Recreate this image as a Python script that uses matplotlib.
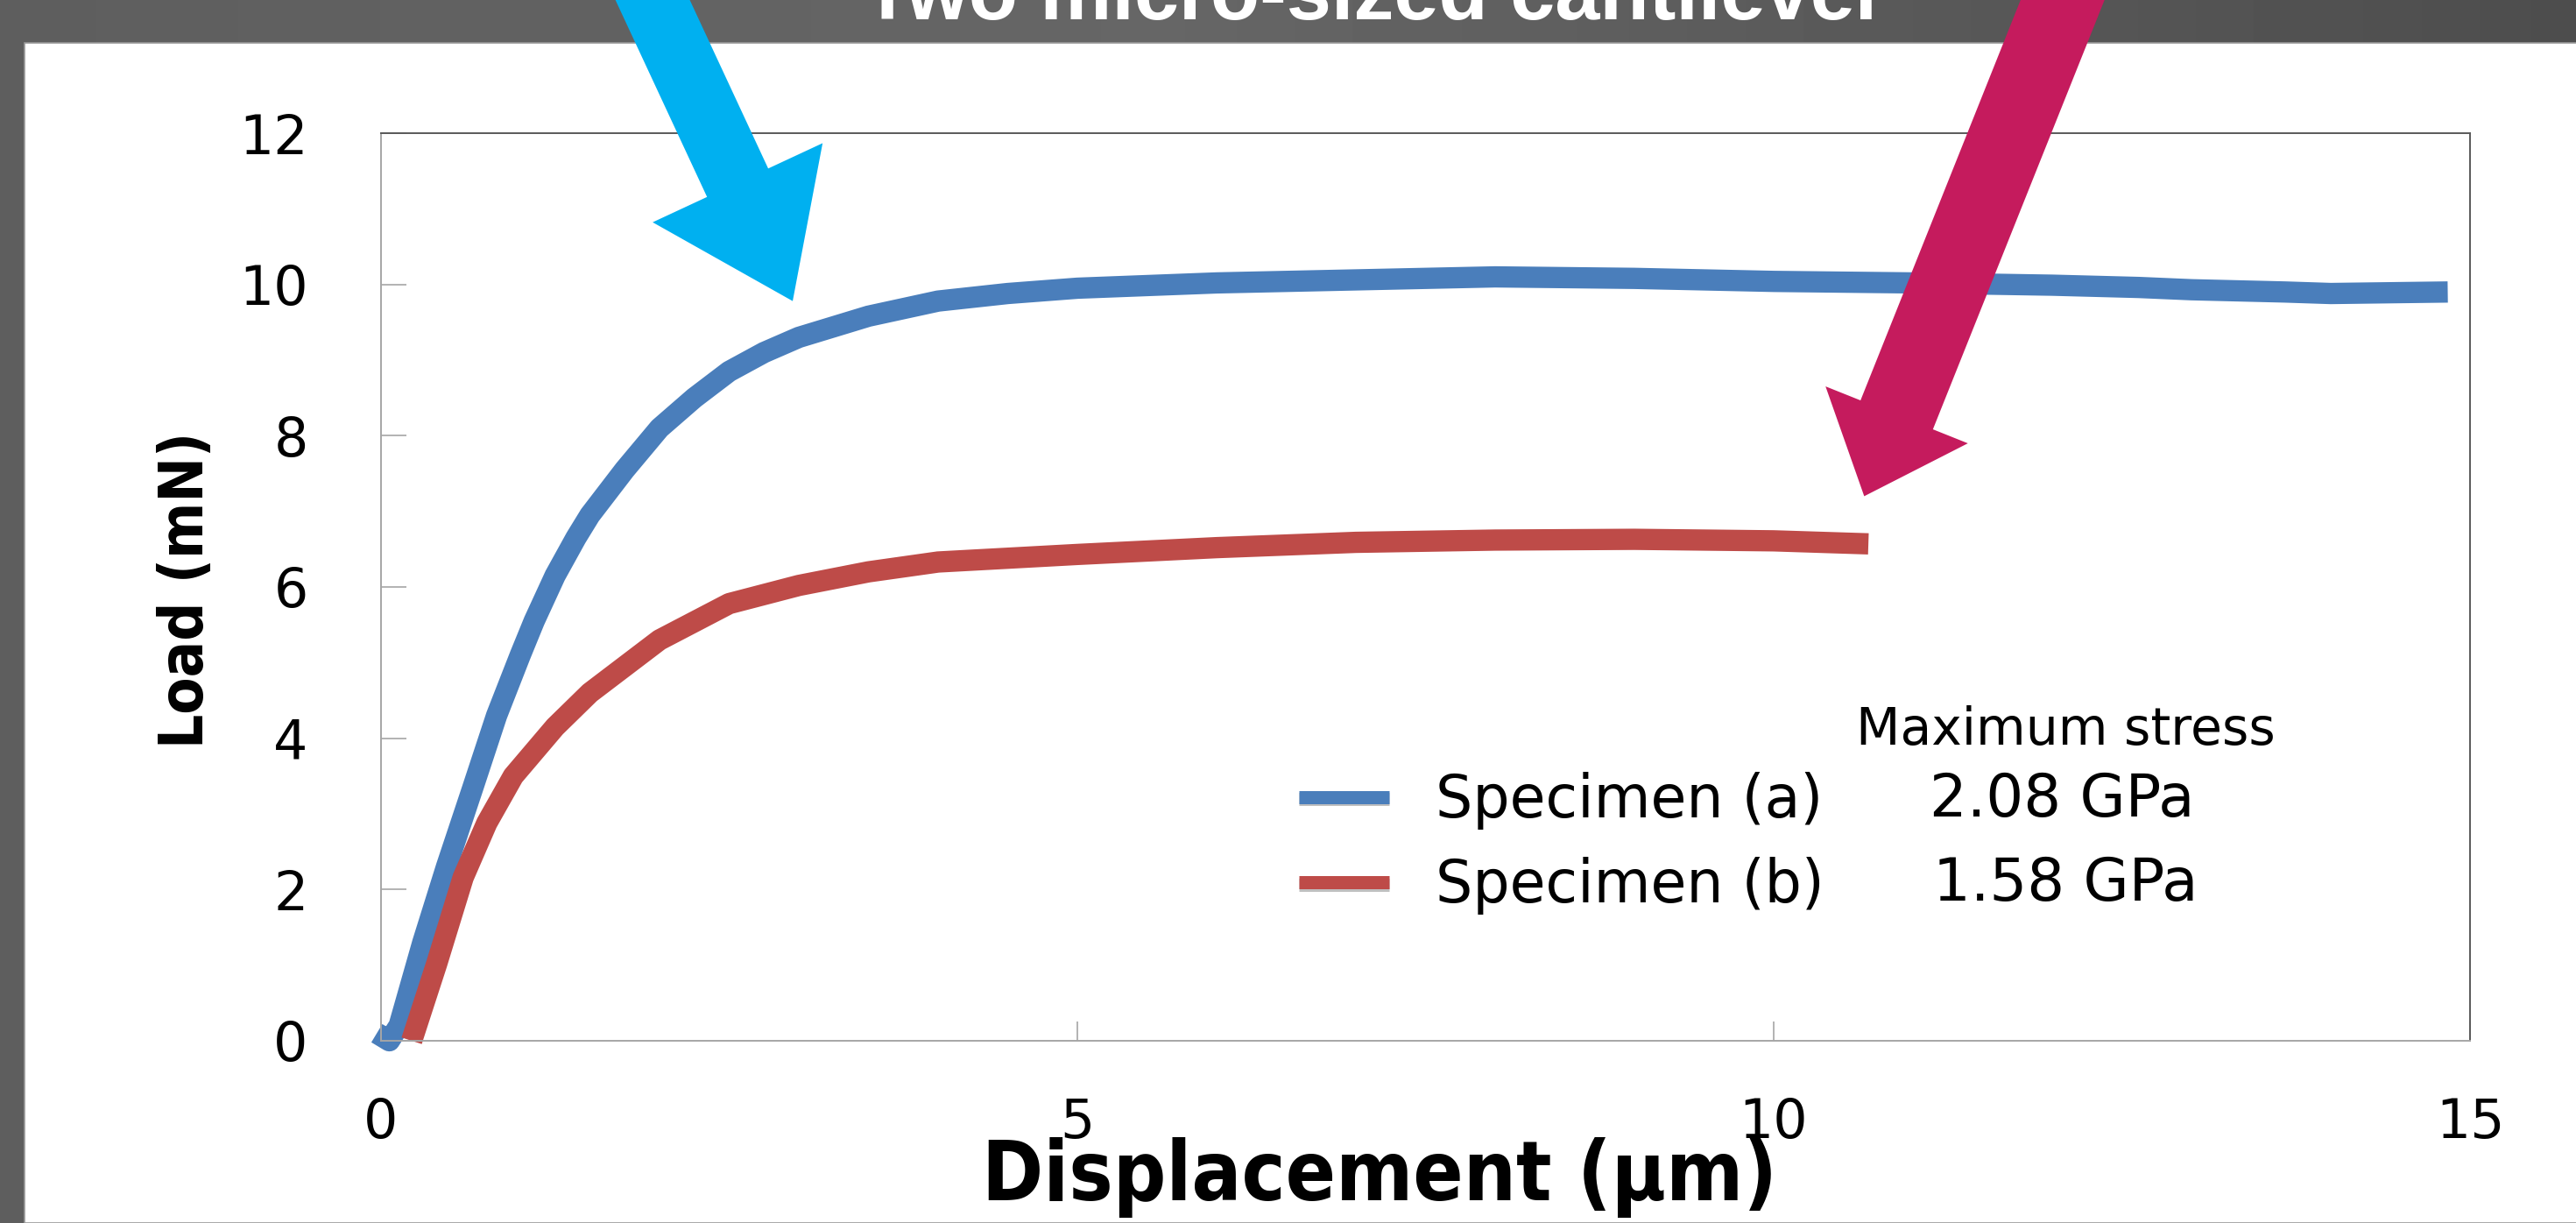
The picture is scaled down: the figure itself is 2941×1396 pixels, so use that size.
import numpy as np
import matplotlib
matplotlib.use("Agg")
from matplotlib import pyplot as plt
from matplotlib.patches import Rectangle, Polygon
from matplotlib.transforms import IdentityTransform
import matplotlib.patheffects as pe
from matplotlib import font_manager
from matplotlib.font_manager import FontProperties

disp_a = [-0.03, 0.06, 0.13, 0.30, 0.47, 0.66, 0.83, 1.0, 1.1, 1.25, 1.4, 1.5, 1.75, 2.0, 2.25, 2.5, 2.75,
          3.0, 3.5, 4.0, 4.5, 5.0, 6.0, 7.0, 8.0, 9.0, 10.0, 11.0, 12.0, 12.62, 13.0, 13.67, 14.0, 14.84]
load_a = [0.1, 0.0, 0.2, 1.3, 2.3, 3.35, 4.3, 5.1, 5.55, 6.15, 6.65, 6.95, 7.55, 8.1, 8.5, 8.85, 9.1,
          9.3, 9.58, 9.78, 9.88, 9.95, 10.02, 10.06, 10.1, 10.08, 10.04, 10.02, 9.99, 9.96, 9.93, 9.9, 9.88, 9.9]
disp_b = [0.22, 0.40, 0.59, 0.76, 0.95, 1.25, 1.5, 2.0, 2.5, 3.0, 3.5, 4.0, 5.0, 6.0, 7.0, 8.0, 9.0, 10.0, 10.68]
load_b = [0.0, 1.02, 2.16, 2.88, 3.5, 4.15, 4.6, 5.3, 5.78, 6.02, 6.2, 6.33, 6.43, 6.52, 6.59, 6.62, 6.63, 6.61, 6.57]

labels = ['Specimen (a)', 'Specimen (b)']
stress = ['2.08 GPa', '1.58 GPa']
xticks = [0, 5, 10, 15]
yticks = [0, 2, 4, 6, 8, 10, 12]

blue = '#4A7EBB'
red = '#BE4B48'
W, H = 2941, 1396


def condensed_bold():
    # look for an installed narrow/condensed bold sans face for the axis titles
    best = None
    for f in font_manager.fontManager.ttflist:
        name = f.name.lower()
        if 'mono' in name or 'serif' in name and 'sans' not in name:
            continue
        wt = f.weight
        if isinstance(wt, str):
            wt = font_manager.weight_dict.get(wt, 400)
        st = str(f.stretch).lower()
        narrowish = 'narrow' in name or 'condensed' in name or st in ('condensed', 'semi-condensed')
        if narrowish and 600 <= wt <= 750 and 'cjk' not in name:
            score = 0 if (st == 'condensed' or 'narrow' in name) else 1
            if best is None or score < best[0]:
                best = (score, f.fname)
    if best:
        return FontProperties(fname=best[1])
    return FontProperties(family='Liberation Sans', weight='bold')


label_font = condensed_bold()

fig = plt.figure(figsize=(W / 100, H / 100), dpi=100)


def fit(txt, target, vertical=False):
    fig.canvas.draw()
    bb = txt.get_window_extent()
    size = bb.height if vertical else bb.width
    txt.set_fontsize(txt.get_fontsize() * target / size)


# dark title bar / frame with a soft horizontal gradient
bg = fig.add_axes([0, 0, 1, 1], zorder=-10)
bg.axis('off')
xs = np.linspace(0, 1, 400)
shade = np.interp(xs, [0, 0.45, 1], [0x5e, 0x66, 0x4d]) / 255
bg.imshow(np.tile(shade, (2, 1)), cmap='gray', vmin=0, vmax=1, aspect='auto', extent=[0, 1, 0, 1])
fig.add_artist(Rectangle((28 / W, 0), 1, 1 - 49 / H, transform=fig.transFigure,
                         facecolor='white', edgecolor='#9a9a9a', lw=1.2, zorder=-5))

# title, clipped by the top edge like the slide
t = fig.text(985 / W, 1 - 22 / H, 'Two micro-sized cantilever', color='white',
             fontweight='bold', family='Liberation Sans', fontsize=60, ha='left', va='baseline')
fit(t, 1170)

ax = fig.add_axes([435 / W, 1 - 1188 / H, (2820 - 435) / W, (1188 - 152) / H])
ax.plot(disp_a, load_a, color=blue, lw=17.5, solid_capstyle='butt', solid_joinstyle='round',
        label=labels[0], clip_on=False)
ax.plot(disp_b, load_b, color=red, lw=17.5, solid_capstyle='butt', solid_joinstyle='round',
        label=labels[1], clip_on=False)
ax.set_xlim(0, 15)
ax.set_ylim(0, 12)
ax.set_xticks(xticks)
ax.set_yticks(yticks)

for s in ['left', 'bottom']:
    ax.spines[s].set_color('#a6a6a6')
    ax.spines[s].set_linewidth(1.4)
for s in ['top', 'right']:
    ax.spines[s].set_color('#595959')
    ax.spines[s].set_linewidth(1.4)
ax.tick_params(axis='y', direction='in', length=21, width=1.2, color='#a6a6a6',
               labelsize=44.5, pad=60)
ax.tick_params(axis='x', direction='in', length=16, width=1.2, color='#a6a6a6',
               labelsize=44.5, pad=46)

yl = ax.set_ylabel('Load (mN)', fontproperties=label_font, va='baseline')
yl.set_fontsize(60)
ax.yaxis.set_label_coords((232 - 435) / 2385, (1188 - 673) / 1036)
xl = ax.set_xlabel('Displacement (μm)', fontproperties=label_font, va='baseline')
xl.set_fontsize(80)
ax.xaxis.set_label_coords((1575 - 435) / 2385, (1188 - 1370) / 1036)
fit(yl, 362, vertical=True)
fit(xl, 908)

leg = ax.legend(loc='upper left', bbox_to_anchor=((1483 - 435) / 2385, (1188 - 881) / 1036),
                frameon=False, prop={'family': 'DejaVu Sans', 'size': 48}, handlelength=1.54,
                handletextpad=0.8, labelspacing=0.47, borderpad=0, borderaxespad=0)
for h in leg.get_lines():
    h.set_linewidth(10.8)
    h.set_path_effects([pe.SimpleLineShadow(offset=(0, -2), alpha=0.25), pe.Normal()])

ax.text((2119 - 435) / 2385, (1188 - 850) / 1036, 'Maximum stress', transform=ax.transAxes,
        fontsize=42, va='baseline', ha='left')
ax.text((2203 - 435) / 2385, (1188 - 932) / 1036, stress[0], transform=ax.transAxes,
        fontsize=48.5, va='baseline', ha='left')
ax.text((2207 - 435) / 2385, (1188 - 1028) / 1036, stress[1], transform=ax.transAxes,
        fontsize=48.5, va='baseline', ha='left')


def block_arrow(tip_xy, direction, head_len, head_w, shaft_w, shaft_len, color):
    # tip given in data coords, geometry in pixels
    tip = ax.transData.transform(tip_xy)
    d = np.array(direction, float)
    d /= np.hypot(*d)
    n = np.array([-d[1], d[0]])
    base = tip - head_len * d
    pts = [tip, base + head_w / 2 * n, base + shaft_w / 2 * n,
           base + shaft_w / 2 * n - shaft_len * d, base - shaft_w / 2 * n - shaft_len * d,
           base - shaft_w / 2 * n, base - head_w / 2 * n]
    fig.add_artist(Polygon(pts, closed=True, transform=IdentityTransform(),
                           facecolor=color, edgecolor='none', zorder=20))


block_arrow((2.956, 9.78), (0.423, -0.909), 149, 214, 77, 500, '#00B0F0')
block_arrow((10.65, 7.2), (-0.371, -0.928), 100, 175, 89, 700, '#C51B5D')

fig.savefig('out.png', dpi=100)
